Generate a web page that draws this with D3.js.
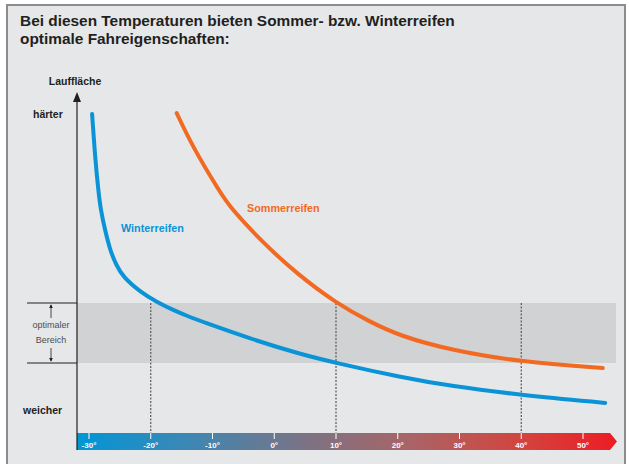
<!DOCTYPE html>
<html>
<head>
<meta charset="utf-8">
<script src="https://cdn.jsdelivr.net/npm/d3@7"></script>
<style>
  body { margin: 0; background: #fff; }
  svg { display: block; font-family: "Liberation Sans", Arial, sans-serif; }
</style>
</head>
<body>
<script>
const width = 629;
const height = 464;

// Data (temperature °C, tread hardness in arbitrary units)
const tempTicks = [-30, -20, -10, 0, 10, 20, 30, 40, 50];
const winterTemp = [-29.5, -29, -28.5, -28.1, -27.4, -26.6, -25.6, -24.5, -21.7, -19, -16.4, -14.1, -12, -2.3, 4.2, 10, 20.4, 28.5, 40.1, 53.6];
const winterHard = [103, 88.3, 77.7, 71, 64.3, 57.7, 52.7, 48.7, 43.7, 40.3, 37.7, 35.7, 34, 27, 23, 20, 15.3, 12.3, 9.3, 6.7];
const summerTemp = [-15.8, -13.2, -8.8, -7.2, -1.8, 3.7, 10, 15.5, 20.4, 28.5, 40.1, 53.2];
const summerHard = [103.3, 92, 77, 72, 60, 49.7, 40, 33.7, 29, 24.3, 20.3, 18.3];
const optimalBand = [20, 40];
const markTemps = [-20, 10, 40];

const svg = d3.select("body")
  .append("svg")
  .attr("width", width)
  .attr("height", height);

// Frame
svg.append("rect")
  .attr("x", 7).attr("y", 5)
  .attr("width", 618).attr("height", 470)
  .attr("fill", "#e6e7e9")
  .attr("stroke", "#8c8c8c")
  .attr("stroke-width", 2);

// Title (font size fitted so the first line spans like the original)
const title = svg.append("text")
  .attr("x", 20).attr("y", 26)
  .attr("font-size", 16)
  .attr("font-weight", "bold")
  .attr("fill", "#231f20");
const t1 = title.append("tspan").attr("x", 20).text("Bei diesen Temperaturen bieten Sommer- bzw. Winterreifen");
title.append("tspan").attr("x", 20).attr("dy", 18).text("optimale Fahreigenschaften:");
const w1 = t1.node().getComputedTextLength();
if (w1 > 0) title.attr("font-size", Math.min(16, 16 * 435 / w1));

// Scales
const x = d3.scaleLinear().domain([-30, 50]).range([89, 583]);
const y = d3.scaleLinear().domain([0, 110]).range([423, 93]);

const axisX = 77;
const barTop = 433, barBottom = 450;

// Optimal band
svg.append("rect")
  .attr("x", axisX)
  .attr("y", y(optimalBand[1]))
  .attr("width", 616 - axisX)
  .attr("height", y(optimalBand[0]) - y(optimalBand[1]))
  .attr("fill", "#d1d2d4");

// Band annotation on the left
optimalBand.forEach(v => {
  svg.append("line")
    .attr("x1", 27).attr("x2", axisX)
    .attr("y1", y(v)).attr("y2", y(v))
    .attr("stroke", "#231f20").attr("stroke-width", 1);
});
const annX = 51;
const defs = svg.append("defs");
defs.append("marker")
  .attr("id", "smallArrow")
  .attr("viewBox", "0 0 6 6")
  .attr("refX", 5).attr("refY", 3)
  .attr("markerWidth", 5).attr("markerHeight", 5)
  .attr("orient", "auto")
  .append("path").attr("d", "M0,0 L6,3 L0,6 Z").attr("fill", "#231f20");

svg.append("line")
  .attr("x1", annX).attr("x2", annX)
  .attr("y1", y(optimalBand[1]) + 15).attr("y2", y(optimalBand[1]) + 2)
  .attr("stroke", "#231f20").attr("stroke-width", 0.8)
  .attr("marker-end", "url(#smallArrow)");
svg.append("line")
  .attr("x1", annX).attr("x2", annX)
  .attr("y1", y(optimalBand[0]) - 15).attr("y2", y(optimalBand[0]) - 2)
  .attr("stroke", "#231f20").attr("stroke-width", 0.8)
  .attr("marker-end", "url(#smallArrow)");

svg.append("text")
  .attr("x", annX).attr("y", 328)
  .attr("text-anchor", "middle")
  .attr("font-size", 9)
  .attr("fill", "#4d4d4f")
  .text("optimaler");
svg.append("text")
  .attr("x", annX).attr("y", 343)
  .attr("text-anchor", "middle")
  .attr("font-size", 9)
  .attr("fill", "#4d4d4f")
  .text("Bereich");

// Dashed markers
svg.selectAll(".mark")
  .data(markTemps)
  .enter()
  .append("line")
  .attr("class", "mark")
  .attr("x1", d => x(d)).attr("x2", d => x(d))
  .attr("y1", y(optimalBand[1])).attr("y2", barTop)
  .attr("stroke", "#58595b")
  .attr("stroke-width", 1.2)
  .attr("stroke-dasharray", "2,1.5");

// Temperature bar
const grad = defs.append("linearGradient")
  .attr("id", "tempGrad")
  .attr("x1", "0%").attr("x2", "100%");
[
  [0, "#0096d6"],
  [0.2, "#3b88b5"],
  [0.42, "#7b7385"],
  [0.62, "#aa6466"],
  [0.82, "#d2453f"],
  [1, "#ed1c24"]
].forEach(([o, c]) => grad.append("stop").attr("offset", o).attr("stop-color", c));

svg.append("path")
  .attr("d", `M${axisX},${barTop} L610,${barTop} L617,${(barTop + barBottom) / 2} L610,${barBottom} L${axisX},${barBottom} Z`)
  .attr("fill", "url(#tempGrad)");

const ticks = svg.append("g");
ticks.selectAll("line")
  .data(tempTicks)
  .enter()
  .append("line")
  .attr("x1", d => x(d)).attr("x2", d => x(d))
  .attr("y1", barTop).attr("y2", barTop + 6)
  .attr("stroke", "#fff")
  .attr("stroke-width", 1);
ticks.selectAll("text")
  .data(tempTicks)
  .enter()
  .append("text")
  .attr("x", d => x(d))
  .attr("y", 448)
  .attr("text-anchor", "middle")
  .attr("font-size", 8)
  .attr("font-weight", "bold")
  .attr("fill", "#fff")
  .text(d => d + "°");

// Y axis with arrow
svg.append("line")
  .attr("x1", axisX).attr("x2", axisX)
  .attr("y1", 99).attr("y2", barBottom)
  .attr("stroke", "#231f20").attr("stroke-width", 1.2);
svg.append("path")
  .attr("d", `M${axisX},92 L${axisX - 4},102 L${axisX + 4},102 Z`)
  .attr("fill", "#231f20");

svg.append("text")
  .attr("x", 75).attr("y", 85)
  .attr("text-anchor", "middle")
  .attr("font-size", 10.5)
  .attr("font-weight", "bold")
  .attr("fill", "#231f20")
  .text("Lauffläche");
svg.append("text")
  .attr("x", 33).attr("y", 118)
  .attr("font-size", 10.5)
  .attr("font-weight", "bold")
  .attr("fill", "#231f20")
  .text("härter");
svg.append("text")
  .attr("x", 23).attr("y", 414)
  .attr("font-size", 10.5)
  .attr("font-weight", "bold")
  .attr("fill", "#231f20")
  .text("weicher");

// Curves
const line = d3.line()
  .x(d => x(d[0]))
  .y(d => y(d[1]))
  .curve(d3.curveBasis);

svg.append("path")
  .datum(d3.zip(winterTemp, winterHard))
  .attr("d", line)
  .attr("fill", "none")
  .attr("stroke", "#0a93d6")
  .attr("stroke-width", 4)
  .attr("stroke-linecap", "round");

svg.append("path")
  .datum(d3.zip(summerTemp, summerHard))
  .attr("d", line)
  .attr("fill", "none")
  .attr("stroke", "#f26a21")
  .attr("stroke-width", 4)
  .attr("stroke-linecap", "round");

svg.append("text")
  .attr("x", 121).attr("y", 232)
  .attr("font-size", 10.8)
  .attr("font-weight", "bold")
  .attr("fill", "#0a93d6")
  .text("Winterreifen");
svg.append("text")
  .attr("x", 247).attr("y", 212)
  .attr("font-size", 10.8)
  .attr("font-weight", "bold")
  .attr("fill", "#f26a21")
  .text("Sommerreifen");
</script>
</body>
</html>
